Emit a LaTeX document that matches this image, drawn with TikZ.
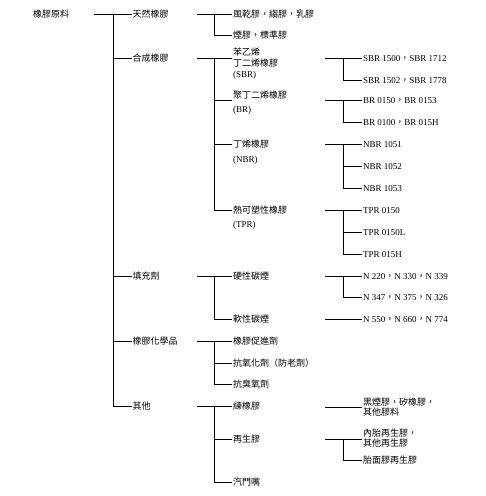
\documentclass[tikz,border=0pt]{standalone}
\usepackage{fontspec}
\setmainfont{Liberation Serif}
\newfontfamily\cjk{Noto Sans CJK TC}
\newcommand\zh[1]{{\cjk #1}}
\newcommand\zc{{\cjk ，}}
\begin{document}
\begin{tikzpicture}[x=1pt,y=-1pt,
  font=\fontsize{9}{11}\selectfont,
  lab/.style={anchor=west, inner xsep=1pt, inner ysep=0pt, text height=7pt, text depth=1pt},
  mlab/.style={anchor=north west, inner xsep=1pt, inner ysep=0pt, align=left},
  conn/.style={line width=0.8pt, black}]
\useasboundingbox (0,0) rectangle (486,496);
% ---- root and level 1
\node[lab] (root) at (32,14) {\zh{橡膠原料}};
\node[lab] (tr) at (131.5,14) {\zh{天然橡膠}};
\node[lab] (hc) at (131.5,58) {\zh{合成橡膠}};
\node[lab] (tc) at (131.5,276) {\zh{填充劑}};
\node[lab] (hx) at (131.5,341) {\zh{橡膠化學品}};
\node[lab] (qt) at (131.5,406) {\zh{其他}};
% ---- level 2
\node[lab] (tr1) at (232,14) {\zh{風乾膠，縐膠，乳膠}};
\node[lab] (tr2) at (232,35) {\zh{煙膠，標準膠}};
\node[mlab] (sbr) at (232,47.5) {\zh{苯乙烯}\\\zh{丁二烯橡膠}\\(SBR)};
\node[mlab] (br) at (232,90.5) {\zh{聚丁二烯橡膠}\\[3pt](BR)};
\node[mlab] (nbr) at (232,139.5) {\zh{丁烯橡膠}\\[4pt](NBR)};
\node[mlab] (tpr) at (232,205.5) {\zh{熱可塑性橡膠}\\[3pt](TPR)};
\node[lab] (tc1) at (232,276) {\zh{硬性碳煙}};
\node[lab] (tc2) at (232,319) {\zh{軟性碳煙}};
\node[lab] (hx1) at (232,341) {\zh{橡膠促進劑}};
\node[lab] (hx2) at (232,363) {\zh{抗氧化劑（防老劑）}};
\node[lab] (hx3) at (232,384) {\zh{抗臭氧劑}};
\node[lab] (qt1) at (232,406) {\zh{練橡膠}};
\node[lab] (qt2) at (232,439) {\zh{再生膠}};
\node[lab] (qt3) at (232,482) {\zh{汽門嘴}};
% ---- level 3
\node[lab] (sbr1) at (362,58) {SBR 1500\zc SBR 1712};
\node[lab] (sbr2) at (362,80) {SBR 1502\zc SBR 1778};
\node[lab] (br1) at (362,100) {BR 0150\zc BR 0153};
\node[lab] (br2) at (362,122) {BR 0100\zc BR 015H};
\node[lab] (nbr1) at (362,144) {NBR 1051};
\node[lab] (nbr2) at (362,166) {NBR 1052};
\node[lab] (nbr3) at (362,188) {NBR 1053};
\node[lab] (tpr1) at (362,210) {TPR 0150};
\node[lab] (tpr2) at (362,232) {TPR 0150L};
\node[lab] (tpr3) at (362,254) {TPR 015H};
\node[lab] (tc1a) at (362,276) {N 220\zc N 330\zc N 339};
\node[lab] (tc1b) at (362,297) {N 347\zc N 375\zc N 326};
\node[lab] (tc2a) at (362,319) {N 550\zc N 660\zc N 774};
\node[mlab, font=\fontsize{9}{10}\selectfont] (qt1a) at (362,397.5) {\zh{黑煙膠，矽橡膠，}\\\zh{其他膠料}};
\node[mlab, font=\fontsize{9}{10}\selectfont] (qt2a) at (362,428.5) {\zh{內胎再生膠，}\\\zh{其他再生膠}};
\node[lab] (qt2b) at (362,460) {\zh{胎面膠再生膠}};
% ---- connector start points
\coordinate (s0) at (94,14);   \coordinate (b0) at (113,14);
\coordinate (s-tr) at (197,14);  \coordinate (b-tr) at (214,14);
\coordinate (s-hc) at (197,58);  \coordinate (b-hc) at (214,58);
\coordinate (s-tc) at (197,276); \coordinate (b-tc) at (214,276);
\coordinate (s-hx) at (197,341); \coordinate (b-hx) at (214,341);
\coordinate (s-qt) at (197,406); \coordinate (b-qt) at (214,406);
\coordinate (s-sbr) at (325,58);  \coordinate (b-sbr) at (343,58);
\coordinate (s-br) at (325,100);  \coordinate (b-br) at (343,100);
\coordinate (s-nbr) at (325,144); \coordinate (b-nbr) at (343,144);
\coordinate (s-tpr) at (325,210); \coordinate (b-tpr) at (343,210);
\coordinate (s-tc1) at (325,276); \coordinate (b-tc1) at (343,276);
\coordinate (s-tc2) at (325,319);
\coordinate (s-qt1) at (325,407);
\coordinate (s-qt2) at (325,439); \coordinate (b-qt2) at (343,439);
% ---- connectors
\draw[conn] (s0) -- (tr.west);
\foreach \n in {hc,tc,hx,qt} \draw[conn] (b0) |- (\n.west);
\draw[conn] (s-tr) -- (tr1.west);
\draw[conn] (b-tr) |- (tr2.west);
\draw[conn] (s-hc) -- (sbr.west |- s-hc);
\draw[conn] (b-hc) |- (br.west |- b-br);
\draw[conn] (b-hc) |- (nbr.west |- b-nbr);
\draw[conn] (b-hc) |- (tpr.west |- b-tpr);
\draw[conn] (s-tc) -- (tc1.west);
\draw[conn] (b-tc) |- (tc2.west);
\draw[conn] (s-hx) -- (hx1.west);
\draw[conn] (b-hx) |- (hx2.west);
\draw[conn] (b-hx) |- (hx3.west);
\draw[conn] (s-qt) -- (qt1.west);
\draw[conn] (b-qt) |- (qt2.west);
\draw[conn] (b-qt) |- (qt3.west);
\draw[conn] (s-sbr) -- (sbr1.west);
\draw[conn] (b-sbr) |- (sbr2.west);
\draw[conn] (s-br) -- (br1.west);
\draw[conn] (b-br) |- (br2.west);
\draw[conn] (s-nbr) -- (nbr1.west);
\draw[conn] (b-nbr) |- (nbr2.west);
\draw[conn] (b-nbr) |- (nbr3.west);
\draw[conn] (s-tpr) -- (tpr1.west);
\draw[conn] (b-tpr) |- (tpr2.west);
\draw[conn] (b-tpr) |- (tpr3.west);
\draw[conn] (s-tc1) -- (tc1a.west);
\draw[conn] (b-tc1) |- (tc1b.west);
\draw[conn] (s-tc2) -- (tc2a.west);
\draw[conn] (s-qt1) -- (qt1a.west |- s-qt1);
\draw[conn] (s-qt2) -- (qt2a.west |- s-qt2);
\draw[conn] (b-qt2) |- (qt2b.west);
\end{tikzpicture}
\end{document}
